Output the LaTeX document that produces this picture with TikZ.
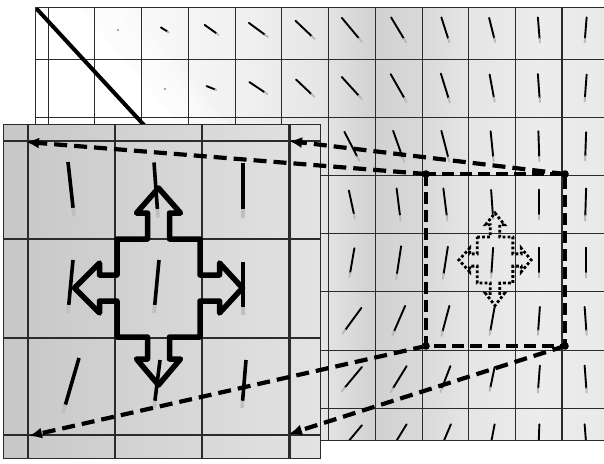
\documentclass[tikz,border=0pt]{standalone}
\usetikzlibrary{arrows.meta,calc}
\definecolor{gridink}{HTML}{2B2B2B}
\tikzset{cellgrid/.style={gridink,line width=1pt},
  fieldstroke/.style={line width=1.9pt,line cap=round},
  zoomstroke/.style={line width=3.6pt},
  zoomlink/.style={line width=4.2pt,dash pattern=on 13pt off 7pt,-{Latex[length=13pt,width=11pt]}},
  zoombox/.style={line width=4pt,dash pattern=on 12pt off 6pt},
  fourway/.pic={\draw[pic actions] (-41.5,-49) -- (-11,-49) -- (-11,-75) -- (-22,-75) -- (0,-100)
    -- (22,-75) -- (11,-75) -- (11,-49) -- (41.5,-49) -- (41.5,-13) -- (61,-13) -- (61,-25)
    -- (84,0) -- (61,25) -- (61,13) -- (41.5,13) -- (41.5,49) -- (11,49) -- (11,71) -- (22,71)
    -- (0,97) -- (-22,71) -- (-11,71) -- (-11,49) -- (-41.5,49) -- (-41.5,13) -- (-59,13)
    -- (-59,25) -- (-84,0) -- (-59,-25) -- (-59,-13) -- (-41.5,-13) -- cycle;}}

\begin{document}
\begin{tikzpicture}[x=1pt,y=-1pt]
\useasboundingbox (0,0) rectangle (604,463);
% orientation field
\begin{scope}
\clip (35,7) rectangle (604,440);
\foreach \xa/\xb/\ca/\cb in {35/160/white/gray!6,160/250/gray!6/gray!12,250/320/gray!12/gray!20,
  320/375/gray!20/gray!36,375/420/gray!36/gray!30,420/470/gray!30/gray!20,470/540/gray!20/gray!15,
  540/604/gray!15/gray!17}
  \shade[left color=\ca,right color=\cb] (\xa-.5,7) rectangle (\xb+.5,440);
\fill[white] (35,7) -- (78,7) -- (194,140) -- (35,140) -- cycle;
\foreach \s in {0,12,24,36}
  \fill[white,fill opacity=.3] (35,7) -- (90+\s,7) -- (206+\s,140) -- (35,140) -- cycle;
\foreach \k in {0,...,10} \draw[cellgrid] ({48+46.75*\k},7) -- ({48+46.75*\k},440);
\draw[cellgrid,line width=1.8pt] (562.25,7) -- (562.25,440);
\foreach \k in {1,...,7} \draw[cellgrid] (35,{0.8+58.2*\k}) -- (604,{0.8+58.2*\k});
\draw[line width=4pt] (35,7) -- (160,142.4);
\foreach \c/\r/\dx/\dy in {3/0/8/5,4/0/14/10,5/0/19/14,6/0/19/18,7/0/20/24,8/0/15/25,9/0/8/25,
  10/0/6/24,11/0/2/25,12/0/-2/25,
  4/1/10/4,5/1/18/12,6/1/18/17,7/1/20/22,8/1/16/28,9/1/9/29,10/1/5/27,11/1/2/28,12/1/-2/27,
  7/2/15/29,8/2/11/31,9/2/8/31,10/2/3/30,11/2/1/30,12/2/-1/28,
  7/3/6/28,8/3/4/32,9/3/4/32,10/3/2/29,11/3/0/30,12/3/-1/32,
  7/4/-5/29,8/4/-5/33,9/4/-5/32,10/4/-2/30,11/4/0/30,12/4/0/30,
  7/5/-19/26,8/5/-13/30,9/5/-8/30,10/5/-5/28,11/5/-2/28,12/5/2/28,
  7/6/-20/24,8/6/-16/26,9/6/-10/26,10/6/-5/24,11/6/-2/27,12/6/2/27,
  7/7/-20/24,8/7/-16/26,9/7/-11/26,10/7/-5/26,11/7/-1/26,12/7/2/26} {
  \draw[fieldstroke] ({48+46.75*(\c-.5)-(\dx)/2},{0.8+58.2*(\r+.5)-(\dy)/2})
    -- ++({.85*\dx},{.85*\dy}) coordinate (tail);
  \draw[fieldstroke,gray!55] (tail) -- ++({.15*\dx},{.15*\dy});
}
\fill[gray!70] (118,30) circle[radius=1.3];
\fill[gray!70] (165,89) circle[radius=1.3];
\draw[cellgrid] (35,440) -- (35,7) -- (604,7);
\draw[cellgrid] (35,440) -- (604,440);
\end{scope}
% zoomed region
\coordinate (boxNW) at (426,174); \coordinate (boxNE) at (565,174);
\coordinate (boxSW) at (426,346); \coordinate (boxSE) at (565,346);
\draw[zoombox] (boxNW) rectangle (boxSE);
\foreach \p in {boxNW,boxNE,boxSW,boxSE} \fill (\p) circle[radius=3.8];
\pic[xscale=.43,yscale=.47,line width=2.8pt,dash pattern=on 2.8pt off 2.2pt] at (495,260) {fourway};
% magnified inset
\shade[left color=gray!44,right color=gray!22] (3,124) rectangle (320,458);
\foreach \x in {28,115,202} \draw[cellgrid,line width=1.3pt] (\x,124) -- (\x,458);
\draw[cellgrid,line width=3pt] (289,124) -- (289,458);
\foreach \y in {141,239,338,435} \draw[cellgrid,line width=1.3pt] (3,\y) -- (320,\y);
\draw[cellgrid] (3,124) rectangle (320,458);
\foreach \cx/\cy/\dx/\dy in {71/189/6/54,156/190/4/55,243/190/0/55,70.5/286.5/-5/53,156.5/286.5/-5/53,
  243/288.5/0/53,71/385.5/-16/55,157/384/-6/48,244/384/-4/48} {
  \draw[zoomstroke] ({\cx-(\dx)/2},{\cy-(\dy)/2}) -- ++({.85*\dx},{.85*\dy}) coordinate (tail);
  \draw[zoomstroke,gray!50] (tail) -- ++({.15*\dx},{.15*\dy});
}
\pic[line width=5.5pt,line join=round] at (158.5,288) {fourway};
\coordinate (insNW) at (26,142); \coordinate (insNE) at (289,141);
\coordinate (insSW) at (29,436); \coordinate (insSE) at (289,434);
\draw[zoomlink] (boxNW) -- (insNW);
\draw[zoomlink] (boxNE) -- (insNE);
\draw[zoomlink] (boxSW) -- (insSW);
\draw[zoomlink] (boxSE) -- (insSE);
\end{tikzpicture}
\end{document}
